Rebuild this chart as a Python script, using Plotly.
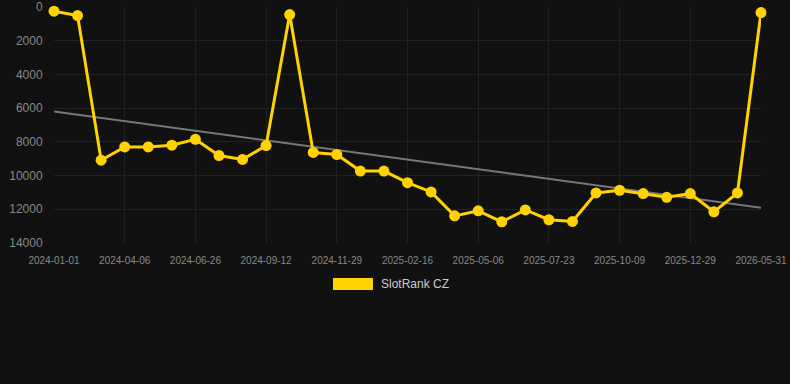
import numpy as np
import plotly.graph_objects as go

dates = ["2024-01-01", "2024-02-01", "2024-03-05", "2024-04-06", "2024-05-03", "2024-05-30",
         "2024-06-26", "2024-07-22", "2024-08-17", "2024-09-12", "2024-10-08", "2024-11-03",
         "2024-11-29", "2024-12-25", "2025-01-21", "2025-02-16", "2025-03-14", "2025-04-09",
         "2025-05-06", "2025-06-01", "2025-06-27", "2025-07-23", "2025-08-18", "2025-09-13",
         "2025-10-09", "2025-11-04", "2025-12-03", "2025-12-29", "2026-02-05", "2026-04-01",
         "2026-05-31"]
ranks = [250, 510, 9090, 8300, 8300, 8200, 7850, 8810, 9045, 8220, 450, 8630, 8750, 9735,
         9735, 10420, 10970, 12390, 12090, 12740, 12040, 12620, 12720, 11030, 10870, 11070,
         11290, 11070, 12150, 11030, 330]
series_name = "SlotRank CZ"
y_ticks = [0, 2000, 4000, 6000, 8000, 10000, 12000, 14000]

idx = np.arange(len(ranks))
slope, intercept = np.polyfit(idx, ranks, 1)
trend = slope * idx + intercept

fig = go.Figure()
fig.add_trace(go.Scatter(x=dates, y=trend, mode="lines",
                         line=dict(color="#777777", width=2), showlegend=False,
                         hoverinfo="skip"))
fig.add_trace(go.Scatter(x=dates, y=ranks, mode="lines+markers", name=series_name,
                         line=dict(color="#FFD200", width=3),
                         marker=dict(color="#FFD200", size=11), cliponaxis=False,
                         showlegend=False))

fig.update_layout(
    width=790, height=384,
    margin=dict(l=54, r=29, t=7, b=141),
    paper_bgcolor="#111111", plot_bgcolor="#111111",
    font=dict(family="Arial, Liberation Sans, sans-serif", color="#888888"),
    xaxis=dict(type="category", tickmode="array", tickvals=dates[::3],
               ticktext=dates[::3], range=[0, len(dates) - 1], automargin=False,
               showgrid=True, gridcolor="#222222", zeroline=False,
               tickfont=dict(size=10, color="#888888"), ticks="outside", ticklen=8,
               tickcolor="rgba(0,0,0,0)", showline=False),
    yaxis=dict(range=[14000, 0], tickvals=y_ticks, ticktext=[str(v) for v in y_ticks],
               automargin=False, showgrid=True, gridcolor="#222222",
               zeroline=False, tickfont=dict(size=12, color="#888888"),
               ticks="outside", ticklen=8, tickcolor="rgba(0,0,0,0)"),
    shapes=[dict(type="rect", xref="paper", yref="paper",
                 x0=(333 - 54) / 707, x1=(373 - 54) / 707,
                 y0=(243 - 290) / 236, y1=(243 - 278) / 236,
                 fillcolor="#FFD200", line=dict(width=0))],
    annotations=[dict(text=series_name, xref="paper", yref="paper",
                      x=(379 - 54) / 707, y=(243 - 284) / 236, xanchor="left",
                      yanchor="middle", showarrow=False,
                      font=dict(size=12, color="#CCCCCC"))],
)

fig.write_html("out.html")
